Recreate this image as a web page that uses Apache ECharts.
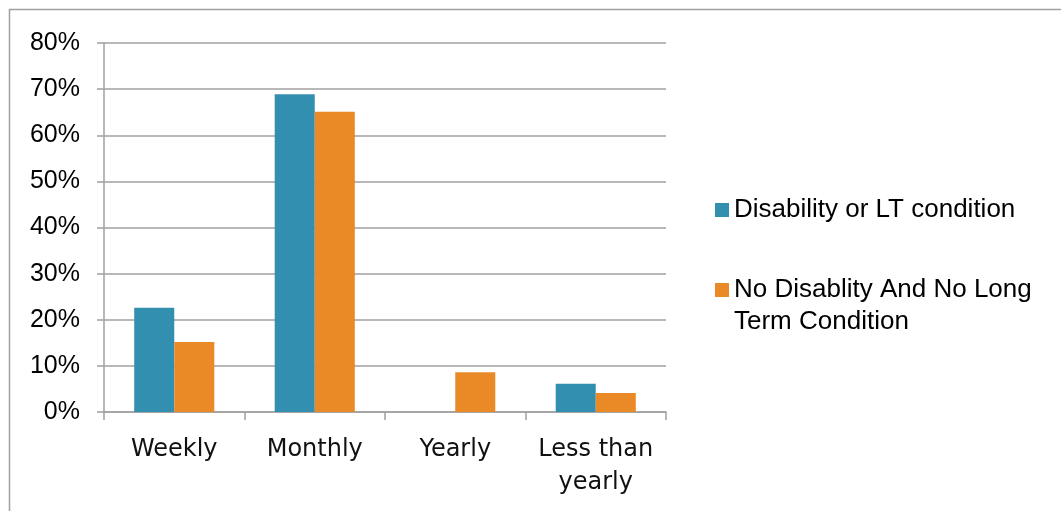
<!DOCTYPE html>
<html>
<head>
<meta charset="utf-8">
<style>
  html, body { margin: 0; padding: 0; background: #fff; }
  #chart { width: 1061px; height: 511px; }
</style>
<script src="https://cdn.jsdelivr.net/npm/echarts@6/dist/echarts.min.js"></script>
</head>
<body>
<div id="chart"></div>
<script>
// data
var categories = ["Weekly", "Monthly", "Yearly", "Less than\nyearly"];
var seriesNames = ["Disability or LT condition", "No Disablity And No Long Term Condition"];
var disabilityValues = [22.6, 68.9, 0, 6.1];
var noDisabilityValues = [15.2, 65.1, 8.6, 4.1];
var yTicks = { min: 0, max: 80, interval: 10 };

var myChart = echarts.init(document.getElementById("chart"));

var axisGray = "#a0a0a0";
var legendText = { fontFamily: "Liberation Sans", fontSize: 26, color: "#000", lineHeight: 32 };

var option = {
  animation: false,
  color: ["#338faf", "#e98a26"],
  grid: { left: 104, top: 43, width: 562, bottom: 99, containLabel: false },
  graphic: [
    {
      type: "rect",
      shape: { x: 9.5, y: 9.5, width: 1100, height: 600 },
      style: { fill: "none", stroke: "#a0a0a0", lineWidth: 1.5 },
      silent: true
    }
  ],
  legend: [
    {
      data: [seriesNames[0]],
      orient: "vertical",
      left: 715,
      top: 194,
      padding: 0,
      itemWidth: 14,
      itemHeight: 14,
      itemGap: 0,
      icon: "rect",
      textStyle: legendText
    },
    {
      data: [seriesNames[1]],
      orient: "vertical",
      left: 715,
      top: 242,
      padding: 0,
      itemWidth: 14,
      itemHeight: 14,
      itemGap: 0,
      icon: "rect",
      // empty first line keeps the square level with the first text line
      formatter: function () { return "{pad| }\n{a|No Disablity And No Long}\n{a|Term Condition}"; },
      textStyle: {
        fontFamily: "Liberation Sans",
        fontSize: 26,
        color: "#000",
        rich: {
          pad: { height: 32, lineHeight: 32, fontSize: 10 },
          a: legendText
        }
      }
    }
  ],
  xAxis: {
    type: "category",
    data: categories,
    axisLine: { lineStyle: { color: axisGray, width: 1.5 } },
    axisTick: { show: true, length: 8, lineStyle: { color: axisGray, width: 1.5 } },
    axisLabel: {
      fontFamily: "DejaVu Sans",
      fontSize: 24,
      color: "#111",
      lineHeight: 33,
      margin: 21,
      interval: 0
    }
  },
  yAxis: {
    type: "value",
    min: yTicks.min,
    max: yTicks.max,
    interval: yTicks.interval,
    axisLine: { show: true, lineStyle: { color: axisGray, width: 1.5 } },
    axisTick: { show: true, length: 7, lineStyle: { color: axisGray, width: 1.5 } },
    splitLine: { lineStyle: { color: axisGray, width: 1.5 } },
    axisLabel: {
      formatter: "{value}%",
      fontFamily: "Liberation Sans",
      fontSize: 25,
      color: "#000",
      margin: 24,
      padding: [5, 0, 0, 0]
    }
  },
  series: [
    {
      name: seriesNames[0],
      type: "bar",
      data: disabilityValues,
      barGap: "0%",
      barCategoryGap: "43%"
    },
    {
      name: seriesNames[1],
      type: "bar",
      data: noDisabilityValues,
      barGap: "0%",
      barCategoryGap: "43%"
    }
  ]
};

myChart.setOption(option);
</script>
</body>
</html>
